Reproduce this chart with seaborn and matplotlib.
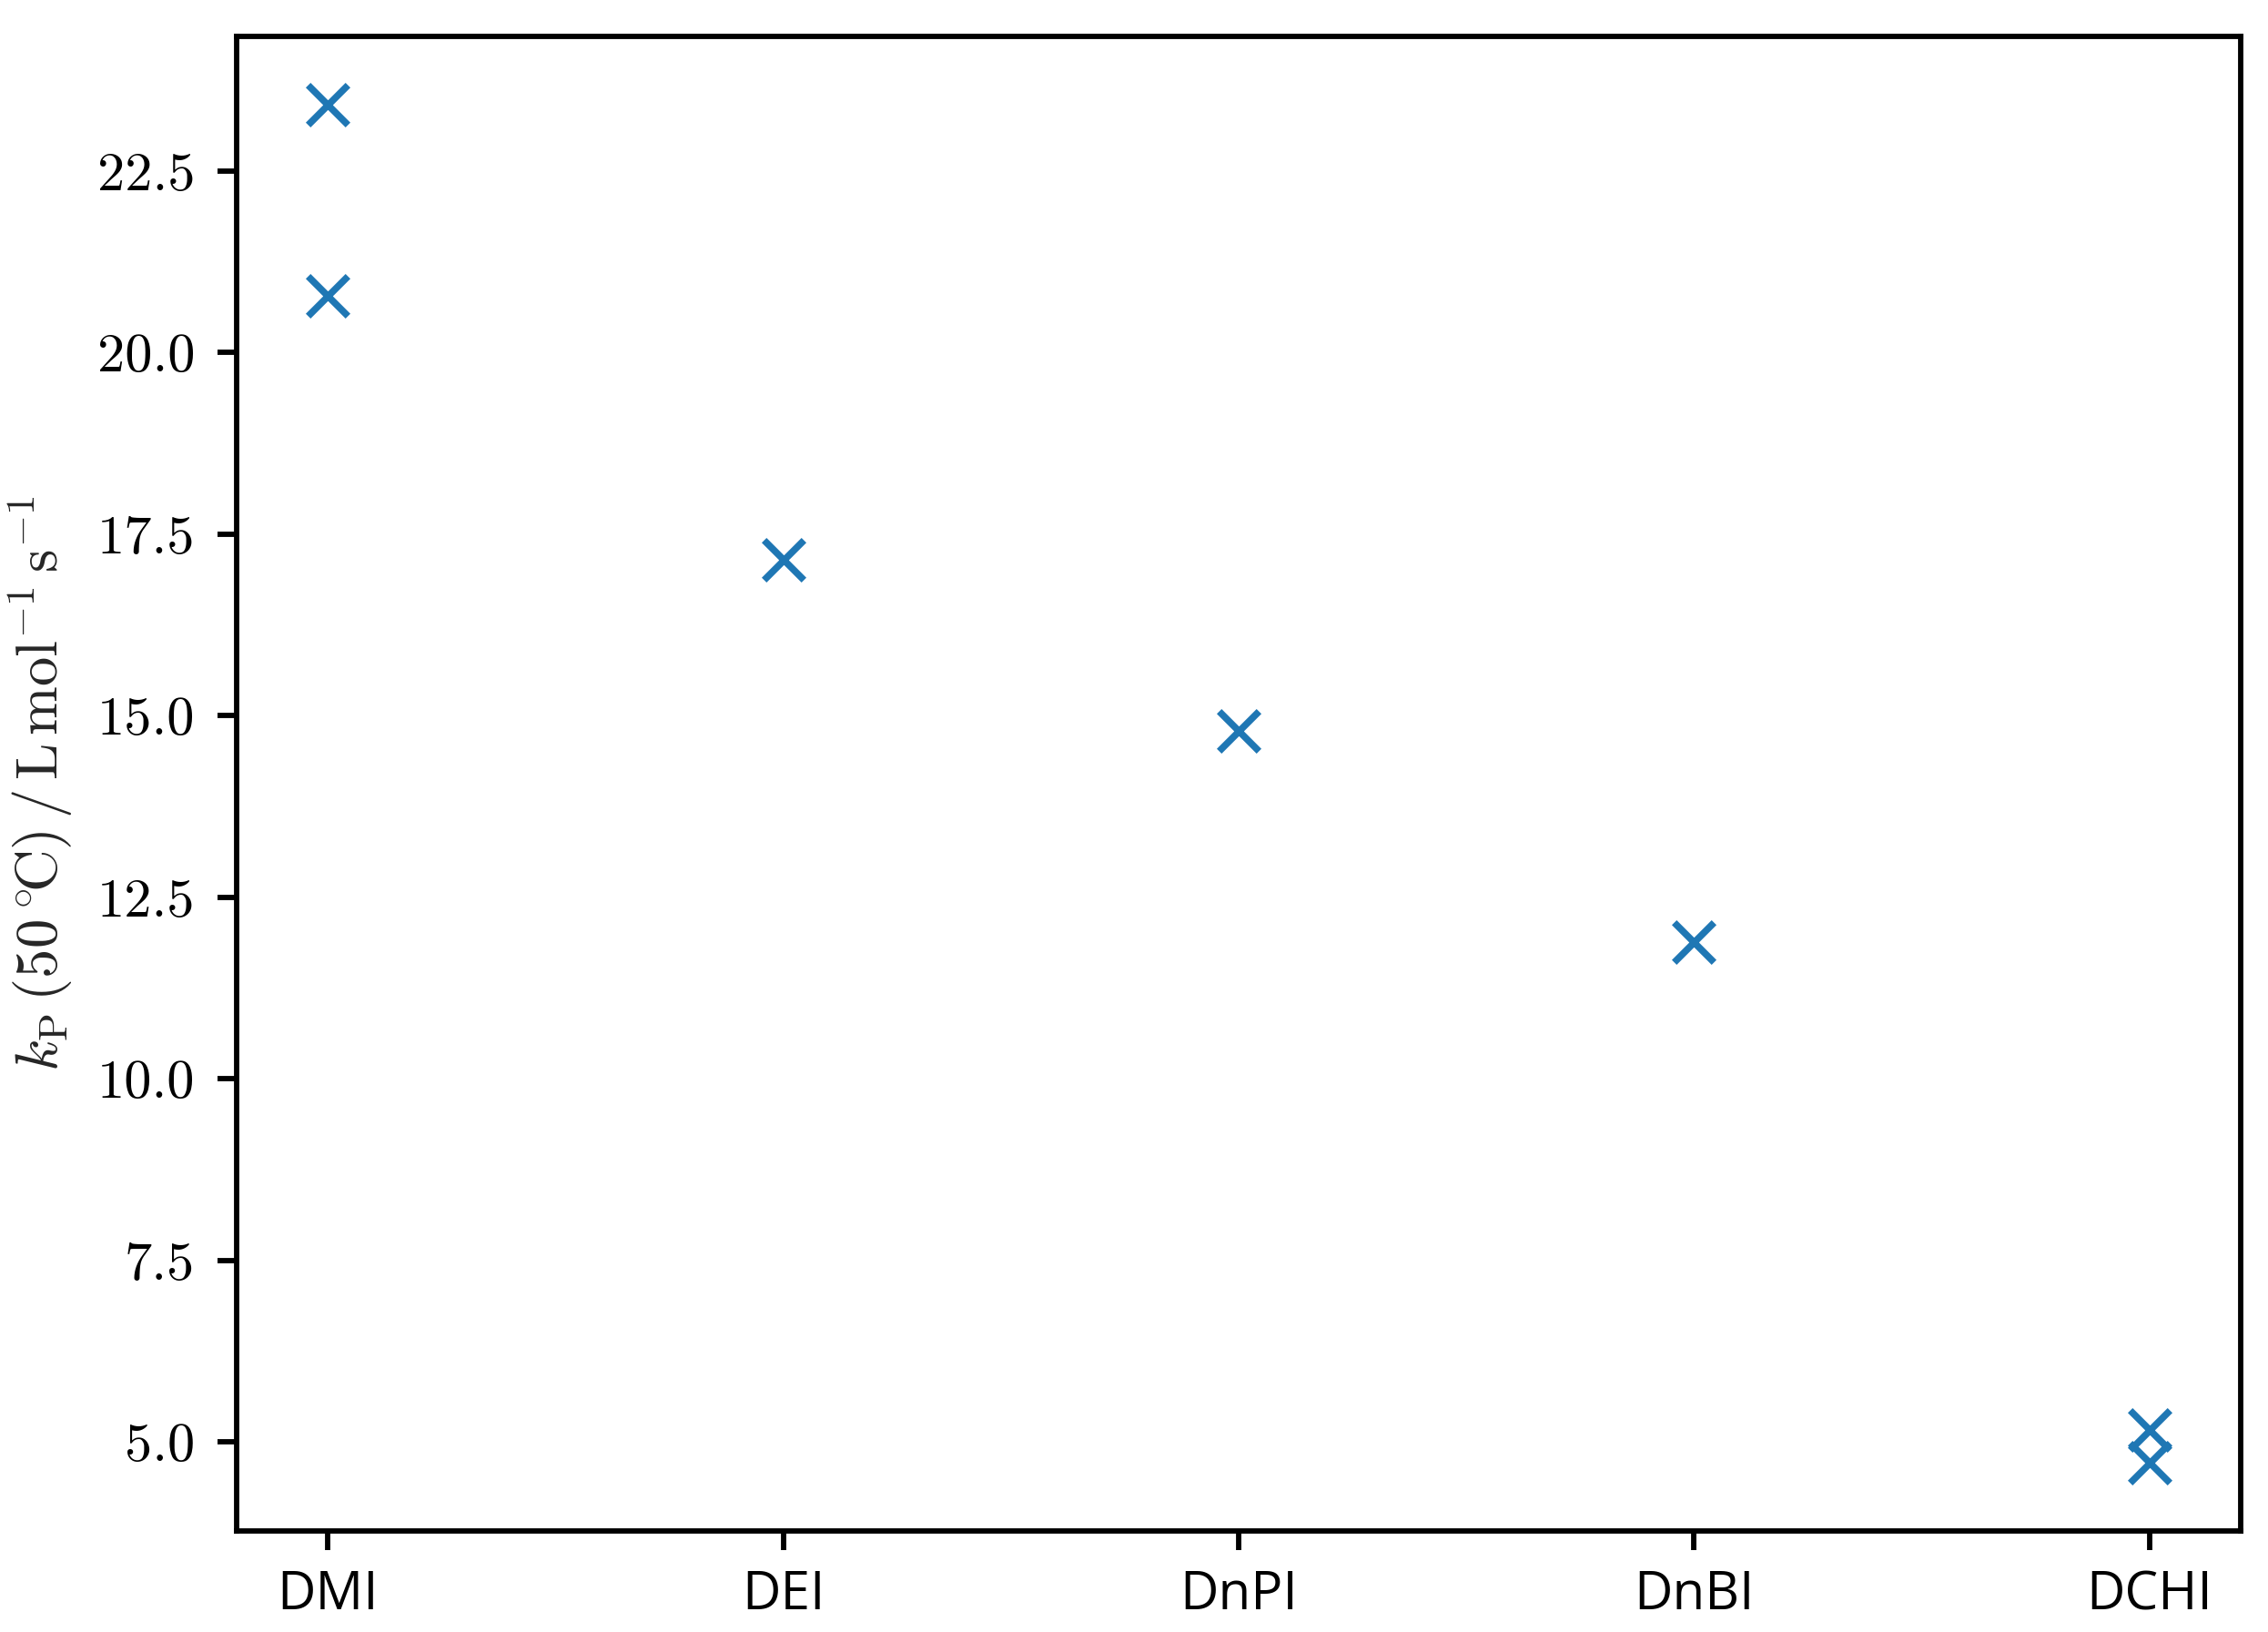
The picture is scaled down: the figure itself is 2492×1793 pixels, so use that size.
"""
Stała szybkości propagacji kP (50 °C) dla kolejnych itakonianów dialkilowych.
"""

import pandas as pd
import matplotlib
matplotlib.use('Agg')
import matplotlib.pyplot as plt
import seaborn as sns

# dane
monomers = ['DMI', 'DMI', 'DEI', 'DnPI', 'DnBI', 'DCHI', 'DCHI']
kp_values = [23.42, 20.78, 17.15, 14.79, 11.89, 5.16, 4.71]
category_order = ['DMI', 'DEI', 'DnPI', 'DnBI', 'DCHI']
y_ticks = [5.0, 7.5, 10.0, 12.5, 15.0, 17.5, 20.0, 22.5]

df = pd.DataFrame({'monomer': monomers, 'kp': kp_values})

sns.set_style('ticks')
plt.rcParams['mathtext.fontset'] = 'cm'
plt.rcParams['axes.unicode_minus'] = False

fig = plt.figure(figsize=(2492 / 300, 1793 / 300), dpi=300)
ax = fig.add_axes([260 / 2492, 1 - 1682 / 1793, (2462 - 260) / 2492, (1682 - 40) / 1793])

df['x'] = df['monomer'].map({m: i for i, m in enumerate(category_order)})
sns.scatterplot(data=df, x='x', y='kp', marker='x', color='#1f77b4',
                s=110, linewidth=1.8, ax=ax, legend=False)

ax.set_xticks(range(len(category_order)))
ax.set_xticklabels(category_order, fontfamily='Open Sans', fontsize=14)
ax.set_yticks(y_ticks)
ax.set_yticklabels([f'{v:.1f}' for v in y_ticks], fontfamily='cmr10', fontsize=14.5)
ax.margins(x=0.05, y=0.05)

ax.set_xlabel('')
ax.set_ylabel(r'$k_\mathrm{P}\,(50\,^{\circ}\!\mathrm{C})\,/\,\mathrm{L\,mol^{-1}\,s^{-1}}$',
              fontsize=15.5, labelpad=6)

for spine in ax.spines.values():
    spine.set_linewidth(1.4)
    spine.set_color('black')
ax.tick_params(axis='both', length=5, width=1.4, color='black', labelcolor='black')
ax.tick_params(axis='y', pad=6)
ax.tick_params(axis='x', pad=5)

fig.savefig('out.png', dpi=300)
